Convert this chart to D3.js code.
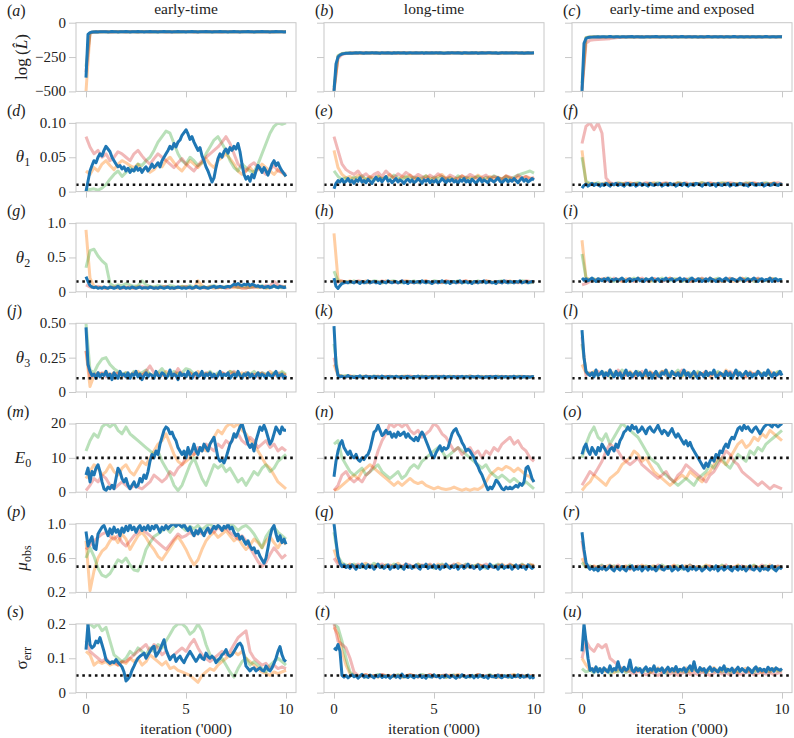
<!DOCTYPE html>
<html><head><meta charset="utf-8">
<script src="https://cdn.jsdelivr.net/npm/d3@7"></script>
<style>body{margin:0;background:#fff}</style>
</head><body><svg id="c" width="794" height="738" font-family="Liberation Serif"></svg>
<script>
// ---------- axis / label data ----------
const colTitles = ["early-time","long-time","early-time and exposed"];
const panelLetters = "abcdefghijklmnopqrstu".split("");
const yDomains = [[-500,0],[0,0.1],[0,1],[0,0.5],[0,20],[0.2,1.0],[0,0.2]];
const yTickValues = [[-500,-250,0],[0,0.05,0.1],[0,0.5,1],[0,0.25,0.5],[0,10,20],[0.2,0.6,1.0],[0,0.1,0.2]];
const yTickLabels = [["\u2212500","\u2212250","0"],["0","0.05","0.10"],["0","0.5","1.0"],["0","0.25","0.50"],["0","10","20"],["0.2","0.6","1.0"],["0","0.1","0.2"]];
const trueValues = [null,0.01,0.15,0.1,10,0.5,0.05];
const xTickValues = [0,5,10];
const xTickLabels = ["0","5","10"];
const xLabel = "iteration ('000)";
const chainOrder = ["orange","green","red","blue"];

// ---------- traces (iterations spread evenly over 0..10 thousand) ----------
const a_blue=[-400,-85,-72,-68,-67,-66,-67,-65,-66,-66,-65,-67,-66,-64,-66,-65,-67,-66,-65,-66,-64,-65,-67,-66,-65,-66,-64,-66,-65,-67,-66,-65,-64,-66,-65,-66,-67,-65,-66,-64,-66,-65,-66,-67,-65,-66,-64,-66,-65,-66,-67,-65,-66,-64,-65,-66,-67,-65,-66,-65,-64,-66,-65,-67,-66,-65,-66,-64,-66,-65,-66,-67,-65,-66,-64,-65,-66,-67,-65,-66,-65,-64,-66,-65,-67,-66,-65,-66,-64,-66,-65,-66,-67,-65,-66,-64,-66,-65,-66,-67,-66];
const a_orange=[-500,-74,-67,-66,-68,-65,-67,-66,-64,-66,-67,-65,-66,-68,-66,-65,-67,-64,-66,-65,-67,-66,-65,-68,-66,-64,-66,-67,-65,-66,-67,-65,-64,-66,-68,-66,-65,-67,-66,-64,-66,-65,-67,-66,-68,-65,-66,-64,-67,-66,-65];
const a_green=[-320,-76,-66,-67,-65,-68,-66,-64,-67,-65,-66,-68,-65,-67,-64,-66,-65,-67,-68,-66,-64,-65,-67,-66,-68,-65,-66,-64,-67,-65,-66,-67,-68,-65,-64,-66,-67,-65,-66,-68,-64,-66,-67,-65,-66,-64,-67,-68,-66,-65,-66];
const a_red=[-360,-78,-67,-65,-66,-64,-67,-68,-66,-65,-67,-64,-66,-68,-65,-66,-67,-65,-64,-66,-68,-66,-67,-65,-64,-66,-65,-68,-67,-66,-64,-65,-66,-68,-67,-65,-66,-64,-67,-66,-65,-68,-66,-64,-65,-67,-66,-68,-65,-66,-67];
const b_blue=[-500,-300,-250,-235,-228,-225,-223,-222,-221,-222,-220,-219,-221,-218,-220,-222,-219,-221,-220,-218,-221,-219,-220,-222,-218,-220,-221,-219,-220,-222,-219,-220,-218,-221,-220,-219,-222,-220,-218,-221,-220,-219,-221,-220,-218,-222,-219,-220,-221,-219,-220,-218,-221,-219,-220,-222,-220,-219,-221,-218,-220,-221,-219,-220,-222,-219,-218,-220,-221,-219,-220,-218,-222,-220,-219,-221,-220,-218,-219,-221,-220,-219,-222,-220,-218,-221,-219,-220,-221,-219,-220,-218,-221,-220,-219,-222,-220,-219,-221,-220,-219];
const b_orange=[-500,-245,-226,-222,-221,-219,-220,-222,-218,-221,-220,-219,-221,-222,-220,-218,-221,-219,-220,-222,-219,-221,-220,-218,-220,-221,-219,-222,-220,-219,-221,-218,-220,-222,-219,-221,-220,-219,-218,-221,-220,-222,-219,-220,-221,-218,-220,-219,-222,-220,-221];
const b_green=[-470,-240,-224,-221,-220,-222,-219,-221,-220,-218,-221,-220,-222,-219,-220,-221,-218,-220,-219,-222,-220,-221,-219,-218,-221,-220,-222,-219,-220,-221,-219,-218,-220,-222,-221,-219,-220,-218,-221,-220,-219,-222,-220,-221,-218,-219,-220,-222,-219,-221,-220];
const b_red=[-490,-262,-232,-225,-221,-220,-222,-219,-221,-220,-218,-222,-220,-219,-221,-220,-222,-218,-219,-221,-220,-219,-222,-221,-218,-220,-219,-221,-222,-220,-218,-219,-221,-220,-222,-219,-221,-218,-220,-219,-221,-222,-220,-218,-219,-221,-220,-222,-219,-220,-221];
const c_blue=[-500,-150,-115,-108,-106,-105,-104,-104,-103,-104,-103,-102,-104,-103,-101,-103,-104,-102,-103,-105,-102,-103,-104,-102,-103,-101,-104,-103,-102,-104,-103,-105,-102,-103,-104,-102,-103,-101,-103,-104,-102,-103,-104,-103,-102,-105,-103,-102,-104,-103,-101,-103,-104,-102,-103,-104,-102,-103,-105,-103,-102,-104,-103,-101,-103,-104,-102,-103,-104,-102,-103,-105,-103,-102,-104,-103,-101,-103,-104,-102,-103,-104,-102,-103,-105,-102,-103,-104,-103,-102,-104,-103,-101,-103,-104,-102,-103,-104,-103,-102,-103];
const c_orange=[-500,-110,-104,-103,-102,-104,-103,-105,-102,-103,-104,-102,-103,-104,-103,-102,-105,-103,-104,-102,-103,-104,-102,-103,-105,-103,-102,-104,-103,-102,-104,-103,-105,-102,-103,-104,-102,-103,-104,-103,-102,-105,-103,-104,-102,-103,-104,-102,-103,-104,-103];
const c_green=[-440,-108,-104,-102,-103,-105,-103,-102,-104,-103,-102,-104,-103,-105,-102,-103,-104,-102,-103,-104,-102,-103,-105,-103,-102,-104,-103,-102,-104,-103,-105,-102,-103,-104,-102,-103,-104,-103,-102,-105,-103,-104,-102,-103,-104,-102,-103,-105,-103,-102,-104];
const c_red=[-480,-150,-128,-124,-122,-121,-118,-116,-112,-108,-105,-104,-103,-105,-102,-104,-103,-102,-104,-103,-105,-102,-103,-104,-102,-103,-104,-103,-102,-105,-103,-104,-102,-103,-104,-102,-103,-105,-103,-102,-104,-103,-102,-104,-103,-105,-102,-103,-104,-102,-103];
const d_blue=[0,.015,.03,.038,.045,.042,.05,.055,.052,.06,.066,.062,.058,.05,.045,.04,.036,.038,.033,.036,.03,.034,.028,.032,.03,.036,.031,.034,.028,.033,.036,.03,.034,.04,.035,.038,.042,.036,.045,.05,.055,.06,.066,.062,.07,.065,.072,.075,.082,.086,.09,.084,.076,.08,.072,.066,.06,.064,.052,.045,.036,.03,.022,.014,.02,.035,.048,.055,.05,.058,.062,.056,.064,.06,.066,.062,.07,.058,.04,.025,.018,.022,.015,.025,.02,.03,.038,.034,.028,.035,.03,.024,.032,.04,.045,.038,.042,.035,.03,.026,.022];
const d_orange=[.03,.025,.035,.03,.04,.045,.038,.032,.04,.045,.042,.038,.035,.04,.03,.035,.028,.032,.04,.036,.045,.05,.042,.035,.03,.038,.045,.04,.035,.042,.048,.04,.035,.045,.05,.055,.048,.04,.03,.025,.03,.035,.028,.032,.04,.035,.03,.025,.032,.028,.022];
const d_green=[.002,.003,.004,.002,.005,.01,.018,.025,.03,.022,.028,.035,.03,.04,.038,.045,.05,.06,.072,.08,.088,.085,.07,.055,.045,.04,.05,.045,.038,.042,.055,.065,.075,.08,.07,.06,.045,.035,.03,.04,.035,.03,.028,.04,.055,.07,.085,.095,.1,.098,.1];
const d_red=[.08,.065,.055,.06,.05,.055,.045,.05,.058,.055,.05,.045,.055,.06,.052,.045,.04,.048,.055,.05,.045,.04,.035,.042,.048,.04,.035,.03,.038,.045,.05,.055,.06,.065,.072,.08,.07,.055,.04,.035,.03,.038,.042,.035,.03,.025,.032,.038,.03,.028,.025];
const e_blue=[.004,.012,.016,.014,.018,.013,.015,.019,.014,.016,.012,.017,.015,.02,.014,.016,.013,.018,.015,.012,.017,.021,.016,.019,.014,.018,.022,.015,.017,.013,.016,.019,.014,.017,.015,.012,.016,.018,.014,.017,.013,.015,.019,.016,.012,.017,.015,.018,.013,.016,.014,.017,.012,.015,.019,.016,.013,.017,.015,.018,.014,.016,.012,.017,.015,.019,.014,.016,.013,.018,.015,.012,.016,.019,.014,.017,.015,.013,.018,.016,.014,.017,.02,.015,.013,.016,.018,.014,.017,.015,.019,.016,.013,.017,.02,.015,.018,.014,.016,.019,.017];
const e_orange=[.06,.035,.025,.02,.022,.018,.024,.02,.017,.022,.019,.023,.018,.021,.025,.019,.016,.022,.02,.024,.018,.021,.017,.023,.02,.018,.022,.025,.019,.021,.017,.02,.023,.018,.021,.019,.024,.02,.017,.022,.019,.021,.018,.023,.02,.016,.021,.019,.022,.02,.018];
const e_green=[.03,.022,.018,.02,.017,.021,.019,.023,.018,.02,.016,.022,.019,.021,.018,.024,.02,.017,.022,.019,.021,.018,.02,.023,.017,.021,.019,.022,.018,.02,.017,.023,.019,.021,.018,.02,.022,.017,.021,.019,.023,.02,.018,.022,.019,.021,.024,.026,.028,.03,.027];
const e_red=[.08,.06,.04,.032,.028,.025,.03,.022,.026,.02,.025,.028,.022,.03,.024,.02,.026,.022,.028,.024,.02,.025,.022,.018,.024,.02,.026,.022,.019,.024,.021,.018,.023,.02,.025,.022,.018,.021,.024,.019,.022,.02,.018,.023,.021,.019,.024,.02,.022,.018,.021];
const f_blue=[.005,.009,.011,.008,.01,.012,.009,.011,.01,.008,.011,.009,.012,.01,.008,.011,.01,.012,.009,.011,.01,.008,.011,.012,.009,.01,.011,.008,.01,.012,.009,.011,.01,.008,.012,.01,.009,.011,.01,.012,.008,.01,.011,.009,.012,.01,.011,.008,.01,.011,.009,.012,.01,.008,.011,.01,.009,.012,.011,.01,.008,.011,.01,.012,.009,.01,.011,.008,.012,.01,.009,.011,.01,.012,.008,.01,.011,.009,.01,.012,.011,.009,.01,.008,.011,.012,.01,.009,.011,.01,.012,.008,.01,.011,.009,.01,.012,.01,.009,.011,.01];
const f_orange=[.06,.013,.011,.012,.01,.011,.013,.012,.01,.011,.012,.01,.013,.011,.012,.01,.011,.012,.013,.01,.011,.012,.01,.011,.013,.012,.011,.01,.012,.011,.013,.01,.012,.011,.01,.012,.013,.011,.01,.012,.011,.01,.013,.012,.011,.01,.012,.011,.013,.01,.011];
const f_green=[.05,.015,.012,.011,.013,.01,.012,.011,.01,.013,.012,.011,.01,.012,.013,.011,.01,.012,.011,.013,.01,.012,.011,.01,.013,.012,.011,.01,.012,.011,.013,.012,.01,.011,.012,.013,.011,.01,.012,.011,.01,.013,.012,.011,.01,.012,.013,.011,.012,.01,.011];
const f_red=[.07,.095,.1,.09,.1,.085,.02,.013,.011,.012,.01,.013,.011,.012,.01,.011,.013,.012,.01,.011,.012,.013,.011,.01,.012,.011,.013,.01,.012,.011,.01,.012,.013,.011,.012,.01,.011,.013,.012,.01,.011,.012,.01,.013,.011,.012,.01,.011,.012,.013,.011];
const g_blue=[.22,.15,.09,.07,.06,.07,.05,.06,.05,.07,.06,.05,.07,.06,.05,.06,.08,.05,.06,.07,.05,.06,.05,.07,.06,.05,.06,.07,.05,.06,.06,.05,.07,.06,.05,.06,.05,.07,.06,.05,.06,.07,.05,.06,.05,.06,.07,.06,.05,.06,.05,.06,.07,.05,.06,.08,.06,.05,.06,.07,.06,.05,.06,.07,.08,.06,.07,.08,.07,.06,.07,.08,.07,.09,.11,.1,.12,.1,.09,.11,.1,.12,.09,.11,.1,.08,.09,.07,.08,.06,.07,.08,.06,.07,.09,.07,.06,.08,.07,.06,.07];
const g_orange=[.9,.2,.08,.06,.07,.05,.06,.07,.05,.06,.07,.05,.06,.08,.06,.05,.07,.06,.05,.06,.07,.06,.05,.06,.08,.06,.07,.05,.16,.09,.06,.07,.05,.06,.07,.06,.08,.06,.07,.05,.06,.07,.08,.06,.07,.05,.06,.08,.07,.06,.07];
const g_green=[.35,.6,.62,.52,.45,.4,.12,.08,.1,.09,.12,.1,.08,.09,.16,.1,.08,.07,.09,.08,.07,.09,.08,.06,.08,.07,.09,.06,.08,.07,.06,.08,.09,.07,.06,.08,.07,.09,.06,.08,.07,.06,.08,.07,.09,.06,.07,.08,.06,.07,.08];
const g_red=[.1,.07,.06,.08,.06,.05,.07,.06,.08,.05,.06,.07,.05,.06,.08,.06,.07,.05,.06,.07,.08,.06,.05,.07,.06,.08,.05,.06,.07,.06,.05,.07,.08,.06,.07,.05,.06,.08,.07,.06,.05,.07,.06,.08,.07,.09,.08,.15,.1,.08,.07];
const h_blue=[.2,.08,.05,.09,.12,.13,.14,.13,.15,.14,.13,.15,.14,.12,.15,.13,.14,.16,.13,.14,.15,.13,.14,.12,.15,.14,.13,.16,.14,.13,.14,.15,.13,.14,.16,.13,.14,.12,.15,.14,.13,.14,.15,.13,.16,.14,.13,.15,.14,.12,.14,.15,.13,.14,.16,.14,.13,.15,.12,.14,.15,.13,.14,.16,.13,.14,.15,.13,.14,.12,.15,.14,.13,.15,.14,.16,.13,.14,.15,.13,.14,.12,.15,.14,.13,.16,.14,.13,.15,.14,.13,.15,.14,.16,.13,.14,.15,.13,.14,.15,.14];
const h_orange=[.85,.18,.15,.14,.16,.13,.15,.14,.16,.13,.15,.14,.13,.16,.14,.15,.13,.14,.16,.15,.13,.14,.15,.16,.14,.13,.15,.14,.16,.13,.14,.15,.13,.16,.14,.15,.13,.14,.16,.15,.14,.13,.15,.14,.16,.13,.15,.14,.13,.15,.14];
const h_green=[.3,.16,.14,.15,.13,.16,.14,.15,.13,.14,.16,.15,.13,.14,.15,.16,.14,.13,.15,.14,.16,.13,.15,.14,.13,.16,.15,.14,.13,.15,.14,.16,.13,.14,.15,.13,.16,.14,.15,.14,.13,.15,.16,.14,.13,.15,.14,.16,.15,.13,.14];
const h_red=[.15,.14,.16,.13,.15,.14,.16,.15,.13,.14,.15,.13,.16,.14,.15,.14,.13,.16,.15,.14,.13,.15,.14,.16,.13,.15,.14,.13,.16,.15,.14,.13,.15,.16,.14,.13,.15,.14,.16,.13,.14,.15,.13,.16,.14,.15,.13,.14,.16,.15,.14];
const i_blue=[.2,.17,.19,.16,.18,.2,.17,.15,.19,.18,.16,.19,.17,.2,.15,.18,.17,.19,.16,.18,.2,.17,.15,.18,.19,.16,.18,.17,.2,.16,.18,.15,.19,.17,.18,.2,.16,.17,.19,.15,.18,.17,.2,.16,.18,.19,.15,.17,.18,.2,.16,.19,.17,.15,.18,.2,.17,.16,.19,.18,.15,.17,.19,.16,.2,.18,.17,.15,.18,.19,.16,.18,.2,.17,.15,.19,.18,.16,.17,.2,.18,.15,.17,.19,.16,.18,.2,.17,.15,.18,.19,.16,.18,.17,.2,.15,.18,.19,.16,.18,.17];
const i_orange=[.75,.2,.18,.16,.19,.17,.2,.16,.18,.17,.15,.19,.18,.16,.2,.17,.18,.15,.19,.17,.16,.18,.2,.17,.19,.16,.18,.15,.17,.19,.18,.16,.2,.17,.18,.16,.19,.17,.15,.18,.2,.16,.17,.19,.18,.16,.17,.2,.18,.16,.17];
const i_green=[.55,.2,.17,.19,.16,.18,.17,.2,.15,.18,.19,.16,.17,.2,.18,.16,.19,.17,.15,.18,.2,.17,.16,.19,.18,.15,.17,.2,.16,.18,.19,.17,.16,.18,.2,.15,.17,.19,.18,.16,.17,.2,.18,.15,.19,.17,.16,.18,.19,.17,.18];
const i_red=[.1,.12,.15,.18,.16,.19,.17,.15,.2,.18,.16,.17,.19,.15,.18,.2,.16,.17,.19,.18,.15,.17,.2,.16,.18,.17,.19,.15,.18,.16,.2,.17,.19,.16,.18,.15,.17,.2,.18,.16,.19,.17,.15,.18,.2,.16,.17,.19,.18,.16,.17];
const j_blue=[.47,.2,.15,.12,.13,.1,.14,.11,.13,.12,.15,.11,.13,.09,.14,.12,.1,.15,.12,.13,.11,.14,.1,.13,.12,.15,.11,.13,.09,.12,.14,.11,.13,.12,.1,.15,.12,.11,.14,.13,.1,.12,.16,.11,.13,.12,.09,.14,.12,.13,.11,.15,.12,.1,.13,.14,.11,.12,.15,.1,.13,.12,.14,.11,.13,.1,.12,.15,.11,.13,.12,.14,.1,.12,.13,.11,.15,.12,.1,.13,.12,.14,.11,.13,.1,.12,.14,.11,.13,.12,.1,.14,.12,.11,.13,.15,.11,.12,.13,.1,.12];
const j_orange=[.3,.04,.12,.14,.13,.15,.12,.14,.13,.11,.14,.12,.13,.15,.12,.14,.13,.11,.14,.12,.15,.13,.12,.14,.13,.11,.14,.12,.15,.13,.12,.14,.11,.13,.14,.12,.15,.13,.12,.14,.11,.13,.12,.14,.13,.12,.15,.13,.11,.14,.12];
const j_green=[.5,.16,.14,.2,.24,.25,.2,.17,.15,.13,.14,.12,.15,.13,.14,.16,.13,.12,.14,.17,.13,.12,.15,.13,.14,.17,.16,.13,.12,.14,.13,.15,.12,.14,.13,.12,.15,.14,.13,.12,.14,.13,.15,.12,.14,.13,.12,.14,.13,.15,.13];
const j_red=[.3,.1,.13,.12,.14,.11,.13,.12,.14,.13,.11,.12,.14,.13,.12,.15,.19,.14,.12,.13,.11,.14,.12,.17,.13,.12,.14,.11,.13,.12,.14,.13,.11,.12,.14,.13,.12,.15,.13,.11,.14,.12,.13,.11,.14,.12,.13,.12,.14,.11,.13];
const k_blue=[.48,.2,.12,.11,.115,.105,.11,.12,.108,.112,.105,.113,.11,.118,.104,.11,.115,.108,.112,.106,.114,.109,.111,.105,.116,.11,.107,.113,.109,.112,.106,.115,.11,.108,.113,.105,.111,.114,.109,.107,.112,.11,.116,.106,.111,.109,.113,.105,.11,.112,.108,.114,.107,.111,.109,.115,.106,.112,.11,.108,.113,.105,.111,.109,.114,.107,.112,.11,.106,.113,.109,.111,.115,.108,.11,.105,.112,.109,.113,.107,.111,.114,.106,.11,.112,.108,.113,.105,.111,.109,.115,.107,.11,.112,.106,.113,.109,.111,.108,.112,.11];
const k_orange=[.2,.12,.115,.11,.118,.108,.113,.11,.116,.107,.112,.115,.109,.114,.11,.106,.113,.111,.117,.108,.112,.11,.115,.107,.113,.109,.116,.111,.108,.114,.11,.112,.107,.115,.109,.113,.11,.106,.114,.111,.108,.115,.11,.112,.107,.114,.109,.113,.111,.108,.112];
const k_green=[.35,.13,.115,.12,.11,.117,.109,.114,.112,.108,.116,.11,.113,.107,.115,.111,.109,.114,.112,.106,.113,.11,.116,.108,.112,.114,.109,.111,.107,.115,.112,.11,.113,.108,.116,.109,.111,.114,.107,.112,.11,.115,.108,.113,.111,.109,.114,.112,.107,.11,.113];
const k_red=[.25,.125,.112,.108,.115,.11,.113,.107,.116,.111,.109,.114,.108,.112,.115,.11,.107,.113,.111,.116,.109,.112,.108,.114,.11,.113,.107,.115,.111,.109,.112,.114,.108,.11,.116,.109,.113,.111,.107,.114,.112,.108,.115,.11,.113,.109,.111,.114,.108,.112,.11];
const l_blue=[.45,.25,.15,.13,.12,.14,.11,.16,.12,.13,.15,.11,.14,.12,.16,.13,.11,.15,.12,.14,.1,.13,.16,.12,.14,.11,.13,.15,.12,.14,.11,.13,.16,.12,.14,.1,.13,.15,.12,.11,.14,.13,.16,.12,.11,.15,.13,.12,.14,.11,.13,.16,.12,.14,.11,.13,.15,.12,.1,.14,.13,.11,.15,.12,.14,.13,.16,.11,.12,.14,.13,.11,.15,.12,.14,.1,.13,.16,.12,.14,.11,.13,.15,.12,.14,.11,.13,.12,.15,.13,.11,.14,.12,.16,.13,.11,.14,.12,.13,.15,.12];
const l_orange=[.2,.14,.13,.15,.12,.14,.13,.16,.12,.14,.11,.13,.15,.12,.14,.13,.11,.15,.13,.12,.14,.16,.12,.13,.14,.11,.15,.13,.12,.14,.13,.15,.11,.13,.14,.12,.16,.13,.12,.14,.13,.11,.15,.12,.14,.13,.12,.15,.13,.14,.12];
const l_green=[.35,.15,.13,.14,.12,.15,.13,.11,.14,.12,.16,.13,.14,.12,.15,.13,.12,.14,.11,.13,.15,.12,.14,.13,.16,.12,.13,.14,.11,.15,.13,.12,.14,.13,.15,.12,.14,.11,.13,.15,.12,.14,.13,.12,.15,.13,.14,.12,.13,.15,.14];
const l_red=[.4,.12,.14,.12,.15,.13,.11,.14,.12,.16,.13,.12,.14,.11,.13,.15,.12,.14,.13,.11,.15,.12,.13,.14,.12,.16,.13,.11,.14,.12,.13,.15,.12,.14,.11,.13,.12,.15,.13,.14,.12,.11,.14,.13,.15,.12,.13,.14,.11,.13,.14];
const m_blue=[5,7,3,6,5,7,8,6,3,1,0.5,1.5,1,2,1,4,7,6,4,3,4,2,1,2,3,1.5,2,4,3,5,4,6,9,11,10,12,11,14,16,18,19,18.5,17,17.5,16,15,13,12,11,12,10,13,11,12,14,12,11,13,12,14,13,12,14,15,16,13,10,9,9.5,8.5,10,12,14,15,17,16,17.5,19,20,18,16,14,13,14,12,15,17,19,18,19.5,18,16,14,15,17,19,18,17,19,18,18];
const m_orange=[4,6,8,7,5,6,8,6,5,7,8,6,5,7,9,8,10,12,14,15,17,14,11,9,8,9,10,11,12,13,12,14,16,18,17,19,20,19,20,18,17,15,14,12,10,8,7,5,3,2,1];
const m_green=[12,15,17,16,19,20,19,20,18,17,19,17,16,15,14,13,12,11,12,9,7,5,2,0.5,2,5,8,10,7,4,2,5,8,7,8,6,7,5,3,4,2,4,6,5,7,8,6,7,9,10,11];
const m_red=[0.5,2,4,3,5,4,2,1,2,3,2,1,2,1.5,1,2,3,5,4,3,4,6,5,7,8,10,12,11,13,12,14,13,12,14,13,15,14,16,17,15,14,16,15,13,14,15,13,14,12,13,12];
const n_blue=[4.5,9,12,14,15,13,12,11,12,10.5,10,11,9.5,9,10,9.5,10.5,11,12.5,15,17.5,18,19.5,18,16.5,17,18,17,17.5,16,17,16,17.5,16.5,17,17.5,16,17,16,15.5,15,16,15,16.5,17.5,16.5,15,13.5,12,10.5,10,11.5,12.5,13.5,12,13,12.5,13,15,17,18,18.5,17,16,14.5,13.5,12,12.5,12,11,10,8.5,7.5,6,5,3.5,2,0.7,1.5,1,2,3.5,3,2,1,0.7,1.5,1,1.5,1,1.5,2,1.5,2.5,2,3,7,7.5,6,4,3];
const n_orange=[0.5,1,2,3,4,5,4,6,7,8,7,6,5,4,3,2,3,2,3,4,3,2.5,3,2,1.5,1,1.5,1,0.8,1,1.5,1,0.5,1,0.5,1,0.8,1.5,3,5,6,7,6.5,7.5,7,6,7,6,5,4.5,3];
const n_green=[14,15,10,8,6,5,6,7,5,6,7,8,6,5,4,5,6,4,5,7,8,7,9,10,11,12,13,12,10,11,12,13,12,11,10,9,8,7,8,6,5,4,5,4,3,4,3,2,3,2,1];
const n_red=[0.5,2,5,6,4,3,4,3,5,6,8,12,15,17,20,19,20,19,20,18,17,18,16,17,18,20,19,17,16,14,12,13,11,12,13,11,12,10,12,11,13,12,14,15,16,14,15,13,12,10,9];
const o_blue=[11,13,14,12,11,13,12,11,13,12,14,13,12,11,12.5,13,12,14,13,15,16,17.5,18,19,18,19.5,18.5,19,17.5,18,19,18,17,18.5,19,18,17.5,18.5,19.5,18,17,18,17.5,16.5,17.5,18.5,17,16,17,16,15,14,15,13.5,14.5,13,12,11,10,9,8,7,8.5,7.5,9,10,9,11,10,12,11.5,13,14,13,15,16,15.5,17,18.5,19,18,19.5,18.5,19,18,17.5,18.5,19,18,17,18,19,19.5,20,19.5,19,20,19.5,19,19.5,20];
const o_orange=[0.5,2,3,5,4,3,2,4,5,6,8,9,10,12,11,9,10,8,6,5,4,3,2,3,4,5,4,6,5,4,3,5,6,8,10,9,8,10,12,14,15,13,14,16,15,17,16,18,17,16,15];
const o_green=[10,14,17,19,16,15,17,14,16,18,20,19,18,17,16,14,12,10,9,8,6,5,4,3,2,3,4,3,2,4,5,6,8,7,9,10,8,7,9,11,10,9,12,11,13,12,14,15,16,17,18];
const o_red=[2,4,6,5,7,9,12,14,13,12,10,9,8,9,10,8,7,6,5,4,5,6,4,3,5,6,8,7,6,5,4,3,5,6,8,10,12,11,9,8,6,5,4,3,2,3,2,1,2,1.5,1];
const p_blue=[.91,.74,.8,.85,.72,.7,.88,.92,.96,.98,.92,.86,.94,.88,.96,.9,.93,.86,.95,.9,.97,.92,.99,.93,.96,.9,.95,.98,.92,.96,.93,.98,.92,.97,.94,.99,.95,.9,.96,.93,.98,.94,.97,.99,1,.97,1,.98,.96,.99,.95,.92,.96,.9,.86,.92,.88,.94,.9,.86,.92,.95,.89,.93,.97,.94,.98,.96,.92,.97,.95,.99,.94,.96,.9,.86,.88,.82,.85,.8,.76,.8,.74,.7,.72,.66,.68,.62,.58,.54,.6,.72,.85,.94,.98,.88,.8,.86,.78,.82,.76];
const p_orange=[.8,.22,.45,.6,.68,.72,.8,.85,.78,.88,.82,.7,.78,.86,.9,.84,.76,.7,.62,.58,.65,.72,.8,.85,.78,.7,.6,.52,.58,.7,.8,.86,.9,.84,.88,.92,.86,.8,.84,.76,.7,.75,.82,.78,.72,.8,.85,.78,.72,.8,.76];
const p_green=[.6,.72,.62,.48,.4,.38,.42,.5,.58,.55,.6,.52,.46,.45,.55,.7,.78,.85,.88,.92,.95,.9,.96,1,.96,.92,.97,.94,.98,.93,.97,1,.95,.98,.93,.96,1,.97,.92,.96,.98,.94,.88,.8,.72,.85,.92,.96,.9,.86,.82];
const p_red=[.7,.75,.8,.84,.88,.9,.85,.82,.86,.78,.74,.8,.86,.9,.94,.9,.86,.82,.78,.74,.7,.76,.82,.88,.84,.86,.9,.86,.92,.88,.9,.94,.9,.96,.92,.95,.9,.86,.82,.86,.8,.72,.64,.56,.5,.55,.64,.72,.66,.6,.64];
const q_blue=[1,.8,.62,.54,.5,.52,.49,.51,.48,.52,.5,.47,.51,.49,.53,.5,.48,.52,.49,.51,.47,.5,.53,.49,.51,.48,.5,.52,.47,.5,.49,.52,.48,.51,.5,.47,.53,.49,.51,.48,.5,.52,.49,.47,.51,.5,.53,.48,.5,.49,.52,.48,.51,.47,.5,.49,.53,.5,.48,.51,.49,.52,.47,.5,.51,.48,.5,.53,.49,.51,.48,.5,.52,.47,.49,.51,.5,.48,.53,.5,.49,.51,.47,.5,.52,.48,.5,.49,.51,.47,.5,.52,.48,.51,.49,.5,.47,.52,.5,.48,.5];
const q_orange=[.7,.56,.52,.5,.53,.51,.49,.52,.54,.5,.51,.53,.49,.52,.5,.51,.54,.5,.52,.49,.51,.53,.5,.52,.51,.49,.53,.5,.52,.51,.5,.54,.51,.49,.52,.5,.53,.51,.5,.52,.49,.51,.53,.5,.52,.51,.49,.52,.5,.53,.51];
const q_green=[.9,.62,.54,.52,.5,.53,.51,.49,.52,.5,.54,.51,.49,.52,.5,.53,.51,.48,.52,.5,.49,.53,.51,.5,.52,.48,.51,.53,.5,.49,.52,.51,.5,.53,.49,.51,.52,.5,.48,.52,.51,.53,.49,.5,.52,.51,.49,.53,.5,.52,.51];
const q_red=[.6,.53,.51,.5,.52,.49,.53,.51,.5,.52,.48,.51,.53,.5,.52,.49,.51,.5,.53,.52,.49,.5,.52,.51,.53,.5,.49,.52,.51,.5,.53,.49,.51,.52,.5,.48,.52,.51,.53,.5,.49,.52,.51,.5,.53,.49,.51,.52,.5,.51,.52];
const r_blue=[.9,.7,.55,.5,.47,.49,.46,.48,.45,.49,.47,.5,.46,.48,.51,.47,.45,.49,.48,.46,.5,.47,.45,.49,.48,.51,.46,.48,.47,.5,.45,.48,.49,.46,.5,.47,.48,.45,.49,.51,.47,.46,.49,.48,.5,.45,.47,.49,.46,.48,.51,.47,.48,.45,.49,.47,.5,.46,.48,.49,.45,.47,.5,.48,.46,.49,.47,.51,.45,.48,.49,.46,.48,.5,.47,.45,.49,.48,.46,.5,.47,.49,.45,.48,.51,.47,.46,.49,.48,.45,.5,.47,.48,.46,.49,.51,.47,.45,.48,.49,.47];
const r_orange=[.6,.5,.48,.51,.49,.47,.5,.52,.48,.5,.49,.51,.47,.5,.48,.52,.49,.5,.51,.48,.47,.5,.49,.52,.48,.5,.51,.47,.49,.5,.48,.52,.5,.49,.47,.51,.48,.5,.49,.52,.47,.5,.48,.51,.49,.5,.47,.52,.49,.5,.48];
const r_green=[.55,.49,.51,.48,.5,.52,.47,.49,.51,.48,.5,.49,.52,.47,.5,.48,.51,.49,.5,.47,.52,.49,.48,.5,.51,.47,.49,.52,.48,.5,.49,.51,.47,.5,.48,.52,.49,.5,.48,.51,.47,.5,.49,.52,.48,.5,.51,.49,.47,.5,.49];
const r_red=[.8,.52,.49,.5,.48,.51,.47,.5,.49,.52,.48,.5,.47,.49,.51,.48,.5,.49,.47,.52,.5,.48,.49,.51,.47,.5,.48,.52,.49,.5,.47,.49,.51,.48,.5,.49,.52,.47,.5,.48,.51,.49,.47,.5,.48,.52,.49,.5,.48,.51,.49];
const s_blue=[.125,.2,.14,.13,.135,.15,.145,.16,.14,.12,.096,.09,.085,.09,.087,.096,.088,.082,.075,.06,.034,.04,.048,.065,.077,.09,.1,.106,.11,.115,.1,.11,.12,.13,.135,.106,.115,.125,.14,.154,.125,.11,.096,.105,.11,.091,.1,.106,.095,.087,.1,.11,.12,.11,.1,.091,.1,.11,.1,.096,.115,.105,.1,.106,.1,.087,.095,.1,.11,.115,.125,.11,.106,.11,.12,.13,.14,.144,.135,.11,.077,.07,.063,.07,.072,.063,.068,.072,.065,.063,.077,.068,.063,.072,.085,.1,.12,.134,.11,.095,.09];
const s_orange=[.12,.11,.08,.09,.085,.09,.08,.085,.08,.09,.085,.1,.09,.1,.08,.09,.11,.1,.09,.08,.09,.07,.075,.065,.06,.055,.05,.04,.03,.05,.06,.07,.065,.08,.09,.1,.11,.12,.11,.12,.1,.09,.08,.07,.06,.055,.05,.06,.055,.06,.065];
const s_green=[.2,.2,.19,.2,.18,.19,.15,.11,.1,.09,.1,.12,.11,.13,.12,.11,.13,.12,.14,.13,.15,.17,.19,.2,.2,.19,.17,.18,.2,.18,.14,.11,.1,.09,.1,.08,.06,.045,.07,.09,.1,.08,.09,.08,.07,.06,.08,.09,.1,.09,.08];
const s_red=[.15,.12,.11,.1,.09,.1,.085,.09,.08,.09,.09,.1,.11,.12,.13,.14,.12,.14,.13,.11,.12,.1,.11,.12,.13,.12,.14,.155,.13,.11,.1,.09,.1,.11,.12,.11,.12,.14,.16,.17,.18,.12,.1,.09,.08,.085,.07,.08,.07,.075,.07];
const t_blue=[.13,.125,.14,.12,.05,.045,.05,.043,.048,.052,.046,.05,.042,.048,.053,.045,.049,.044,.051,.047,.043,.05,.046,.052,.044,.048,.045,.05,.042,.047,.051,.045,.049,.043,.054,.046,.048,.044,.05,.047,.043,.049,.046,.051,.044,.048,.042,.05,.047,.045,.052,.046,.049,.043,.048,.045,.051,.047,.044,.05,.046,.042,.049,.045,.052,.047,.044,.048,.046,.05,.043,.049,.045,.051,.047,.044,.048,.042,.05,.046,.048,.044,.051,.046,.043,.049,.047,.045,.05,.044,.048,.046,.052,.044,.049,.045,.047,.051,.043,.048,.04];
const t_orange=[.19,.17,.12,.08,.055,.05,.046,.05,.053,.047,.049,.045,.052,.048,.05,.046,.051,.044,.049,.053,.047,.05,.045,.048,.052,.046,.05,.049,.045,.051,.047,.053,.048,.045,.05,.047,.052,.049,.046,.05,.048,.044,.051,.047,.05,.053,.046,.049,.047,.05,.048];
const t_green=[.2,.19,.15,.1,.06,.05,.047,.052,.045,.05,.048,.053,.046,.05,.044,.049,.052,.047,.045,.05,.048,.046,.053,.049,.045,.051,.047,.05,.044,.048,.052,.046,.05,.047,.045,.049,.051,.046,.048,.053,.045,.05,.047,.049,.044,.051,.048,.046,.05,.047,.045];
const t_red=[.2,.15,.14,.13,.1,.06,.05,.048,.052,.046,.05,.047,.053,.049,.045,.051,.048,.05,.046,.052,.049,.045,.05,.047,.053,.048,.046,.05,.052,.047,.049,.045,.051,.048,.05,.046,.053,.047,.049,.05,.045,.052,.048,.046,.05,.049,.047,.051,.045,.048,.05];
const u_blue=[.12,.2,.15,.1,.065,.07,.06,.075,.06,.07,.058,.072,.065,.06,.078,.062,.07,.066,.09,.068,.06,.074,.065,.07,.095,.066,.06,.072,.064,.07,.058,.068,.075,.062,.07,.065,.078,.06,.069,.064,.072,.058,.066,.074,.062,.07,.064,.076,.06,.068,.065,.072,.06,.07,.078,.064,.09,.066,.06,.073,.065,.07,.058,.068,.075,.062,.07,.065,.06,.072,.066,.078,.06,.068,.064,.071,.058,.067,.074,.062,.07,.065,.06,.072,.067,.058,.069,.075,.062,.07,.064,.068,.06,.074,.066,.07,.062,.072,.068,.065,.07];
const u_orange=[.1,.08,.065,.07,.062,.068,.06,.072,.058,.066,.07,.062,.075,.06,.068,.064,.07,.058,.066,.072,.06,.068,.063,.07,.058,.065,.072,.06,.067,.062,.07,.058,.066,.073,.06,.065,.07,.062,.068,.058,.066,.071,.06,.064,.07,.058,.067,.062,.07,.065,.068];
const u_green=[.07,.06,.065,.058,.07,.062,.068,.055,.064,.06,.07,.058,.066,.062,.072,.06,.065,.058,.068,.062,.07,.056,.064,.06,.068,.062,.058,.066,.07,.06,.064,.058,.068,.062,.066,.06,.07,.058,.064,.062,.068,.06,.066,.058,.07,.062,.064,.06,.068,.062,.065];
const u_red=[.1,.15,.13,.12,.14,.13,.14,.1,.09,.08,.07,.065,.06,.055,.062,.058,.052,.06,.055,.05,.058,.062,.054,.06,.05,.056,.061,.053,.058,.052,.06,.055,.05,.057,.062,.054,.058,.051,.06,.055,.053,.058,.06,.052,.056,.06,.054,.058,.052,.057,.06];

const traces = {
 a:{orange:a_orange,green:a_green,red:a_red,blue:a_blue}, b:{orange:b_orange,green:b_green,red:b_red,blue:b_blue}, c:{orange:c_orange,green:c_green,red:c_red,blue:c_blue},
 d:{orange:d_orange,green:d_green,red:d_red,blue:d_blue}, e:{orange:e_orange,green:e_green,red:e_red,blue:e_blue}, f:{orange:f_orange,green:f_green,red:f_red,blue:f_blue},
 g:{orange:g_orange,green:g_green,red:g_red,blue:g_blue}, h:{orange:h_orange,green:h_green,red:h_red,blue:h_blue}, i:{orange:i_orange,green:i_green,red:i_red,blue:i_blue},
 j:{orange:j_orange,green:j_green,red:j_red,blue:j_blue}, k:{orange:k_orange,green:k_green,red:k_red,blue:k_blue}, l:{orange:l_orange,green:l_green,red:l_red,blue:l_blue},
 m:{orange:m_orange,green:m_green,red:m_red,blue:m_blue}, n:{orange:n_orange,green:n_green,red:n_red,blue:n_blue}, o:{orange:o_orange,green:o_green,red:o_red,blue:o_blue},
 p:{orange:p_orange,green:p_green,red:p_red,blue:p_blue}, q:{orange:q_orange,green:q_green,red:q_red,blue:q_blue}, r:{orange:r_orange,green:r_green,red:r_red,blue:r_blue},
 s:{orange:s_orange,green:s_green,red:s_red,blue:s_blue}, t:{orange:t_orange,green:t_green,red:t_red,blue:t_blue}, u:{orange:u_orange,green:u_green,red:u_red,blue:u_blue}
};

// ---------- styling / layout ----------
const chainStyle = {
  orange:{color:"#ff7f0e",op:0.38}, green:{color:"#2ca02c",op:0.33},
  red:{color:"#d62728",op:0.33}, blue:{color:"#1f77b4",op:1}
};
const W = 220, H = 68.7;
const colLeft = [76, 324, 572];
const rowTop = d3.range(7).map(r => 22.7 + r*100.2);
const gridColor = "#c8c8c8";
const svg = d3.select("#c");
const x = d3.scaleLinear().domain([-0.5, 10.5]).range([0, W]);

function addText(px, py, str, size, anchor) {
  return svg.append("text").attr("x", px).attr("y", py)
    .attr("font-family", "Liberation Serif").style("font-family", "'Liberation Serif', serif")
    .attr("font-size", size).attr("text-anchor", anchor || "start").attr("fill", "#222").text(str);
}

for (let r = 0; r < 7; r++) {
  const y = d3.scaleLinear().domain(yDomains[r]).range([H, 0]);
  for (let c = 0; c < 3; c++) {
    const id = panelLetters[r*3 + c];
    const g = svg.append("g").attr("transform", `translate(${colLeft[c]},${rowTop[r]})`);
    const clipId = "clip-" + id;
    g.append("clipPath").attr("id", clipId).append("rect")
      .attr("x", 0).attr("y", 0).attr("width", W).attr("height", H);

    const ya = g.append("g").call(d3.axisLeft(y).tickValues(yTickValues[r]).tickSize(7).tickFormat(""));
    ya.select(".domain").remove();
    ya.selectAll("line").attr("stroke", gridColor);
    const xa = g.append("g").attr("transform", `translate(0,${H})`)
      .call(d3.axisBottom(x).tickValues(xTickValues).tickSize(6).tickFormat(""));
    xa.select(".domain").remove();
    xa.selectAll("line").attr("stroke", gridColor);

    const plot = g.append("g").attr("clip-path", `url(#${clipId})`);
    chainOrder.forEach(ch => {
      const vals = traces[id][ch];
      const n = vals.length;
      const line = d3.line().x((d, i) => x(i * 10 / (n - 1))).y(d => y(d));
      plot.append("path").attr("d", line(vals))
        .attr("fill", "none").attr("stroke", chainStyle[ch].color)
        .attr("stroke-opacity", chainStyle[ch].op)
        .attr("stroke-width", 3).attr("stroke-linejoin", "round");
    });

    if (trueValues[r] !== null) {
      g.append("line").attr("x1", 0).attr("x2", W)
        .attr("y1", y(trueValues[r])).attr("y2", y(trueValues[r]))
        .attr("stroke", "#111").attr("stroke-width", 2.6).attr("stroke-dasharray", "2.6,3.7");
    }
    g.append("rect").attr("x", 0).attr("y", 0).attr("width", W).attr("height", H)
      .attr("fill", "none").attr("stroke", gridColor).attr("stroke-width", 1);

    if (c === 0) {
      yTickValues[r].forEach((v, k) => {
        addText(colLeft[c] - 10, rowTop[r] + y(v), yTickLabels[r][k], 15, "end").attr("dy", "0.33em");
      });
    }
    if (r === 6) {
      xTickValues.forEach((v, k) => {
        addText(colLeft[c] + x(v), rowTop[r] + H + 21, xTickLabels[k], 15, "middle");
      });
      addText(colLeft[c] + W/2, rowTop[r] + H + 41, xLabel, 15.5, "middle");
    }
    if (r === 0) addText(colLeft[c] + W/2, rowTop[r] - 9, colTitles[c], 15.5, "middle");
    const pl = addText(colLeft[c] + (c === 0 ? -69 : -9), rowTop[r] - 7, null, 16);
    pl.append("tspan").text("(");
    pl.append("tspan").attr("font-style", "italic").text(id);
    pl.append("tspan").text(")");
  }
}

function yLabel(r, rotated, parts) {
  const cy = rowTop[r] + H/2;
  const t = addText(0, 0, null, 17, "middle");
  if (rotated) t.attr("x", null).attr("y", null).attr("transform", `translate(21,${cy}) rotate(-90)`).attr("dy", "0.35em");
  else t.attr("x", 23).attr("y", cy).attr("dy", "0.3em");
  parts.forEach(p => {
    const s = t.append("tspan").text(p.t);
    if (p.i) s.attr("font-style", "italic");
    if (p.sub) s.attr("font-size", 12).attr("dy", p.dy);
  });
}
yLabel(0, true, [{t:"log\u2009("},{t:"L\u0302",i:true},{t:")"}]);
yLabel(1, false, [{t:"\u03b8",i:true},{t:"1",sub:true,dy:4}]);
yLabel(2, false, [{t:"\u03b8",i:true},{t:"2",sub:true,dy:4}]);
yLabel(3, false, [{t:"\u03b8",i:true},{t:"3",sub:true,dy:4}]);
yLabel(4, false, [{t:"E",i:true},{t:"0",sub:true,dy:4}]);
yLabel(5, true, [{t:"\u03bc",i:true},{t:"obs",sub:true,dy:4}]);
yLabel(6, true, [{t:"\u03c3"},{t:"err",sub:true,dy:4}]);
</script>
</body></html>
